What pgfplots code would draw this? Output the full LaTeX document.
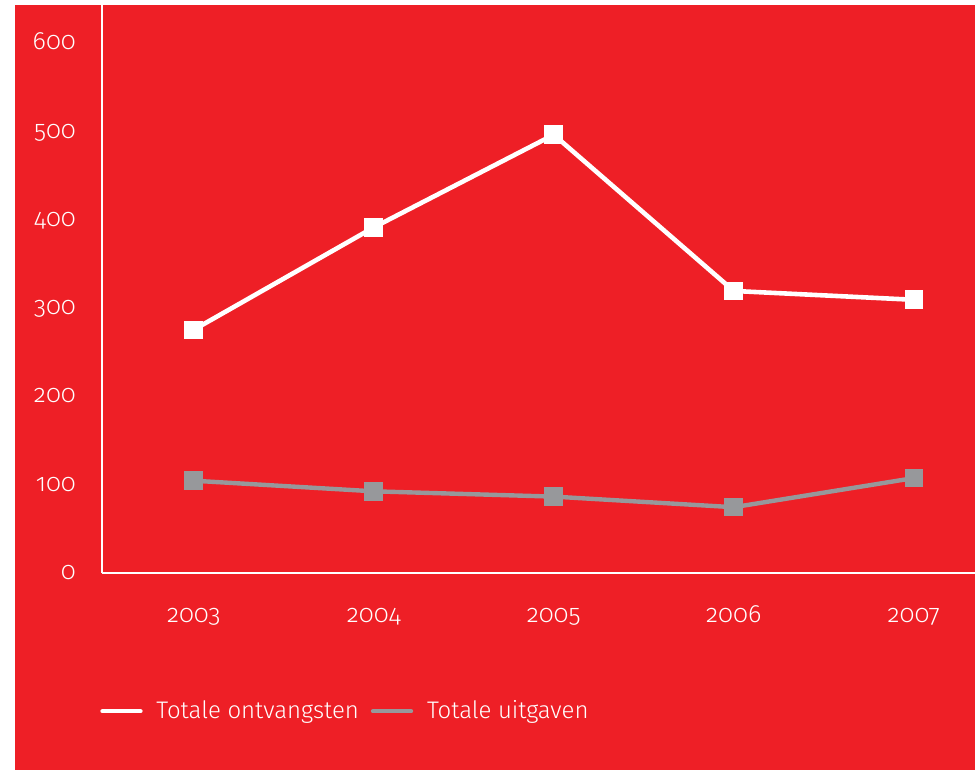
\documentclass[border=0pt]{standalone}
\usepackage{fontspec}
\setmainfont{Fira Sans Light}[Numbers=OldStyle]
\usepackage{pgfplots}
\pgfplotsset{compat=1.18}
\definecolor{bgred}{HTML}{EE1F26}
\definecolor{lgray}{HTML}{97989B}
\begin{document}
\begin{tikzpicture}
\fill[white] (0pt,0pt) rectangle (488pt,385.5pt);
\fill[bgred] (7.5pt,0pt) rectangle (488pt,383pt);
\begin{axis}[
  at={(51pt,98.5pt)}, anchor=south west,
  scale only axis, width=437pt, height=284.5pt,
  xmin=-0.51, xmax=4.34, ymin=0, ymax=644,
  axis x line=bottom, axis y line=left,
  axis line style={white, line width=1pt, -},
  xtick={0,1,2,3,4}, xticklabels={2003,2004,2005,2006,2007},
  ytick={0,100,200,300,400,500,600},
  major tick length=0pt,
  tick label style={white, font=\fontsize{12.5}{14}\selectfont},
  /pgf/number format/assume math mode=true,
  yticklabel style={anchor=base east, xshift=-9.5pt, yshift=-3pt},
  xticklabel style={anchor=base, yshift=-24.5pt},
  clip=false,
  legend style={at={(0,0)}, anchor=west, xshift=-4pt, yshift=-69pt, draw=none, fill=none,
    text=white, font=\fontsize{12}{14}\selectfont, legend columns=2,
    /tikz/every even column/.append style={column sep=4pt}},
  legend image code/.code={\draw[#1, line width=2.2pt, line cap=round] (0pt,0pt) -- (19pt,0pt);\path[draw=none] (0pt,0pt) -- (25pt,0pt);},
]
\addplot[white, line width=2.3pt, mark=square*, mark size=4.4pt, mark options={solid, fill=white, draw=white, line width=0pt}]
  coordinates {(0,276)(1,392)(2,497)(3,320)(4,310)};
\addlegendentry{Totale ontvangsten}
\addplot[lgray, line width=2.2pt, mark=square*, mark size=4.4pt, mark options={solid, fill=lgray, draw=lgray, line width=0pt}]
  coordinates {(0,105)(1,93)(2,87)(3,75)(4,108)};
\addlegendentry{Totale uitgaven}
\end{axis}
\end{tikzpicture}
\end{document}
